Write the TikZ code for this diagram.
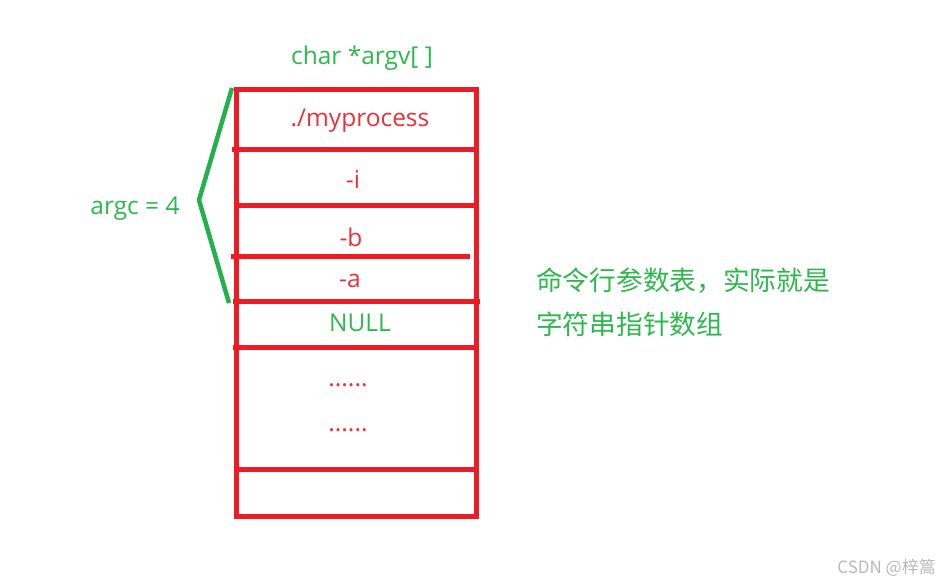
\documentclass[tikz,border=0pt]{standalone}
\usepackage{fontspec}
\setmainfont{Open Sans}
\newfontfamily\cjkfont{Noto Sans CJK SC}
\definecolor{PaintRed}{HTML}{ED1C24}
\definecolor{PaintGreen}{HTML}{22B14C}
\definecolor{TextRed}{HTML}{E8323A}
\definecolor{TextGreen}{HTML}{2DB84D}
\definecolor{MarkGray}{HTML}{B9B9B9}
\usetikzlibrary{positioning}

\begin{document}
\begin{tikzpicture}[x=1pt, y=-1pt,
   wall/.style={PaintRed, line width=5pt},
   entry/.style={anchor=base, inner sep=0pt, font=\fontsize{24.5}{29}\selectfont, text=TextRed},
   note/.style={anchor=base west, inner sep=0pt, font=\cjkfont\fontsize{26.7}{32}\selectfont, text=TextGreen}]
   \useasboundingbox (0,0) rectangle (940,582);
   % Array outline
   \draw[wall] (236,89) rectangle (476,516);
   % Cell separators
   \draw[wall] (232,149) -- (479,149);
   \draw[wall] (236,205) -- (476,205);
   \draw[wall] (231,256) -- (470,256);
   \draw[wall] (233,301) -- (480,301);
   \draw[wall] (233,347) -- (474,347);
   \draw[wall] (236,469) -- (476,469);
   % Array name
   \node[entry, text=TextGreen] (title) at (362,64) {char *argv[ ]};
   % Cell contents
   \node[entry] (prog) at (360,126) {./myprocess};
   \node[entry] (opti) at (353,188) {-i};
   \node[entry] (optb) at (351,246) {-b};
   \node[entry] (opta) at (350,287) {-a};
   \node[entry, text=TextGreen] (null) at (360,331) {NULL};
   \node[entry] (more1) at (348,386) {......};
   \node[entry] (more2) at (348,431) {......};
   % Brace for argc
   \draw[PaintGreen, line width=4.5pt, line join=round] (232,88) -- (199,200) -- (229,303);
   \node[entry, text=TextGreen] (argc) at (135,214) {argc = 4};
   % Remark
   \node[note] (remark1) at (536,290) {命令行参数表，实际就是};
   \node[note] (remark2) at (536,334) {字符串指针数组};
   % Watermark
   \node[anchor=base east, inner sep=0pt, text=MarkGray, font=\cjkfont\fontsize{17}{20}\selectfont] (mark) at (936,573) {CSDN @梓篙};
\end{tikzpicture}
\end{document}
